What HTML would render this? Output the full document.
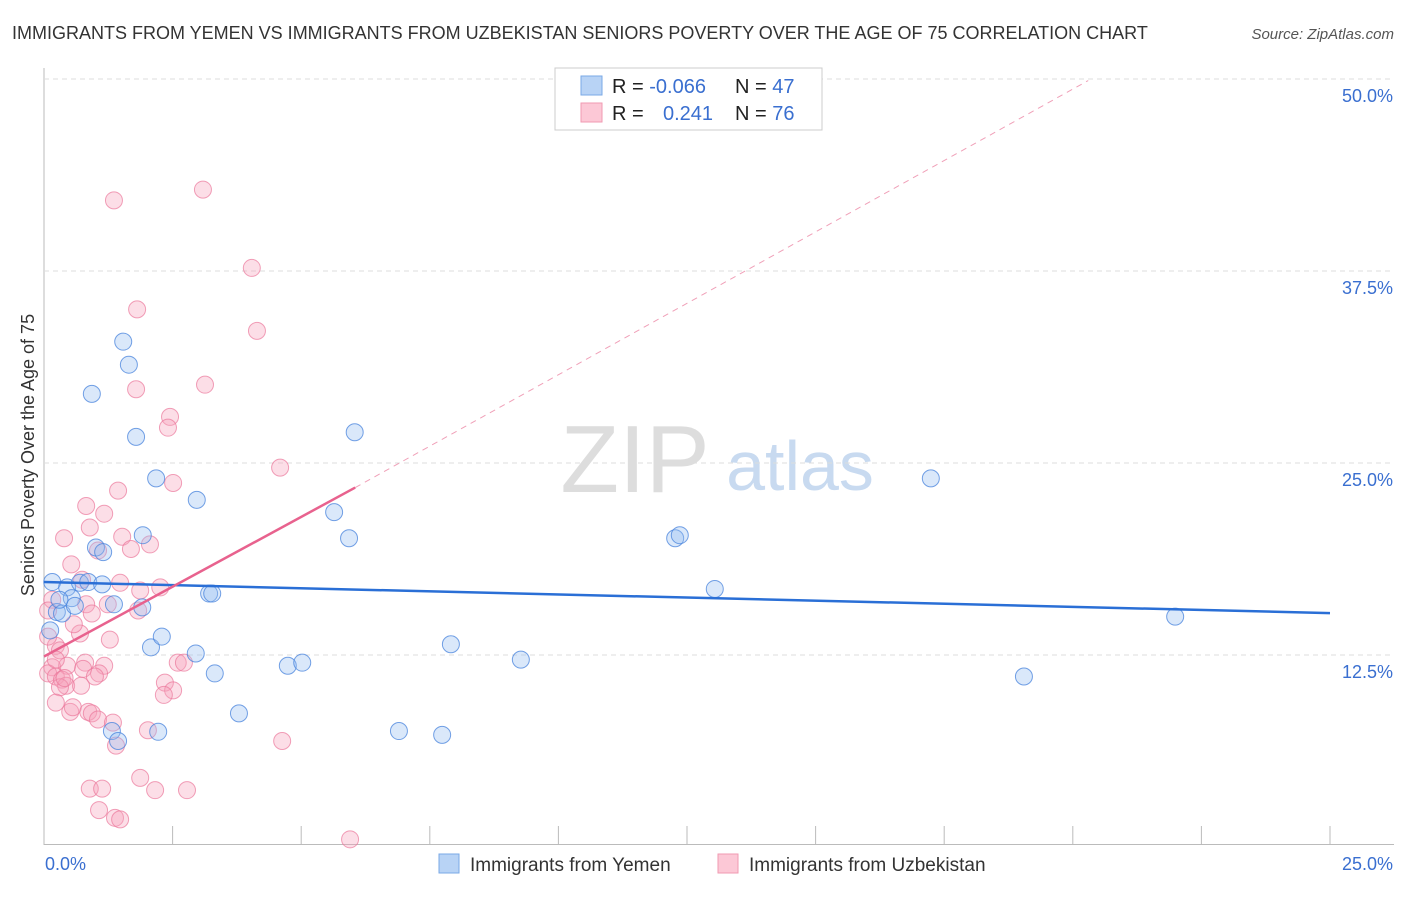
<!DOCTYPE html>
<html><head><meta charset="utf-8"><style>
body{margin:0;background:#fff;font-family:"Liberation Sans",sans-serif;}
svg text{font-family:"Liberation Sans",sans-serif;}
</style></head><body>
<svg id="c" width="1406" height="892">
<text x="12" y="39" font-size="18" fill="#333">IMMIGRANTS FROM YEMEN VS IMMIGRANTS FROM UZBEKISTAN SENIORS POVERTY OVER THE AGE OF 75 CORRELATION CHART</text>
<text x="1394" y="39" font-size="15" fill="#555" font-style="italic" text-anchor="end">Source: ZipAtlas.com</text>
<text x="34" y="455" font-size="18" fill="#333" text-anchor="middle" transform="rotate(-90 34 455)">Seniors Poverty Over the Age of 75</text>
<g><text x="635" y="492" font-size="96" fill="#ddd" font-family="Liberation Serif" text-anchor="middle">ZIP</text><text x="800" y="490" font-size="70" fill="#c8daf0" text-anchor="middle">atlas</text></g>
<g id="grid"></g><g id="pts"></g><g id="lines"></g>
<g>
<rect x="555" y="68" width="267" height="62" fill="#fff" stroke="#ccc"/>
<rect x="581" y="76" width="21" height="19" fill="#b8d3f5" stroke="#7aa8e6"/>
<rect x="581" y="103" width="21" height="19" fill="#fcc8d6" stroke="#f09ab2"/>
<text x="612" y="93" font-size="20" fill="#222">R = <tspan fill="#3a6fd0">-0.066</tspan></text>
<text x="735" y="93" font-size="20" fill="#222">N = <tspan fill="#3a6fd0">47</tspan></text>
<text x="612" y="120" font-size="20" fill="#222">R = <tspan fill="#3a6fd0" x="663">0.241</tspan></text>
<text x="735" y="120" font-size="20" fill="#222">N = <tspan fill="#3a6fd0">76</tspan></text>
</g>
<g>
<rect x="439" y="854" width="20" height="19" fill="#b8d3f5" stroke="#7aa8e6"/>
<text x="470" y="871" font-size="19" fill="#333">Immigrants from Yemen</text>
<rect x="718" y="854" width="20" height="19" fill="#fcc8d6" stroke="#f09ab2"/>
<text x="749" y="871" font-size="19" fill="#333">Immigrants from Uzbekistan</text>
</g>
<text x="45" y="870" font-size="18" fill="#3a6fd0">0.0%</text>
<text x="1393" y="870" font-size="18" fill="#3a6fd0" text-anchor="end">25.0%</text>
</svg>
<script>
const yTicks=[12.5,25,37.5,50];
const yTickLabels=["12.5%","25.0%","37.5%","50.0%"];
const xTicks=[0,2.5,5,7.5,10,12.5,15,17.5,20,22.5,25];
const yemenX=[.16,.25,.35,.45,.54,.6,.7,.86,.93,1.01,1.15,1.13,1.36,1.32,1.44,1.54,1.65,1.79,1.91,1.92,2.08,2.18,2.22,2.29,2.95,2.97,3.21,3.27,3.32,3.79,4.74,5.02,5.64,5.93,6.04,6.9,7.74,7.91,9.27,12.27,12.36,13.04,17.24,19.05,21.99,.12,.3];
const yemenY=[17.25,15.3,15.2,16.9,16.2,15.7,17.2,17.25,29.5,19.5,19.2,17.1,15.8,7.55,6.9,32.9,31.4,26.7,15.6,20.3,13.0,24.0,7.5,13.7,12.6,22.6,16.5,16.5,11.3,8.7,11.8,12.0,21.8,20.1,27.0,7.55,7.3,13.2,12.2,20.1,20.3,16.8,24.0,11.1,15.0,14.1,16.1];
const uzbX=[1.36,3.09,4.04,1.81,4.14,1.79,3.13,2.45,2.41,4.59,2.51,1.44,.82,1.17,.89,.39,1.52,2.06,1.69,1.05,.53,1.48,2.26,.74,1.87,.82,1.24,.93,1.83,.16,.7,.23,.08,.16,.45,.8,1.17,1.07,.08,.23,.35,.43,.31,.72,.76,.99,2.6,2.72,2.35,2.51,2.33,.23,.51,.56,.86,.93,1.05,1.34,1.4,2.02,4.63,1.87,.89,1.13,2.16,2.78,1.07,1.38,1.48,5.95,.08,.31,.23,.58,1.28,.4];
const uzbY=[42.1,42.8,37.7,35.0,33.6,29.8,30.1,28.0,27.3,24.7,23.7,23.2,22.2,21.7,20.8,20.1,20.2,19.7,19.4,19.3,18.4,17.2,16.9,17.4,16.7,15.8,15.8,15.2,15.4,16.1,13.9,13.1,13.7,11.7,11.8,12.0,11.8,11.3,11.3,11.1,10.9,10.5,10.4,10.5,11.6,11.1,12.0,12.0,10.7,10.2,9.9,9.4,8.8,9.1,8.8,8.7,8.3,8.1,6.6,7.6,6.9,4.5,3.8,3.8,3.7,3.7,2.4,1.9,1.8,0.5,15.4,12.8,12.2,14.5,13.5,11.0];
const yemenTrend=[17.25,15.23];
const uzbTrend=[12.4,23.4,6.05,49.9,20.3];
const NS="http://www.w3.org/2000/svg";
const X=v=>44+v/25*1286, Y=v=>847-v*15.36;
function mk(p,t,a){const e=document.createElementNS(NS,t);for(const k in a)e.setAttribute(k,a[k]);p.appendChild(e);return e;}
const g=document.getElementById('grid');
mk(g,'line',{x1:44,y1:68,x2:44,y2:845,stroke:'#bbb'});
mk(g,'line',{x1:44,y1:844.5,x2:1394,y2:844.5,stroke:'#bbb'});
yTicks.forEach((v,i)=>{
 const l=mk(g,'line',{x1:44,x2:1394,y1:Y(v),y2:Y(v),stroke:'#ddd','stroke-dasharray':'5,4'});
 
 
 const t=mk(g,'text',{x:1393,y:Y(v)+23,'font-size':18,fill:'#3a6fd0','text-anchor':'end'});
 t.textContent=yTickLabels[i];
 
 
});
xTicks.forEach(v=>{
 const l=mk(g,'line',{x1:X(v),x2:X(v),y1:826,y2:845,stroke:'#bbb'});
 
 
});
const p=document.getElementById('pts');
uzbX.forEach((x,i)=>{
 const c=mk(p,'circle',{cx:X(x),cy:Y(uzbY[i]),r:8.5,fill:'rgba(247,160,185,0.35)',stroke:'rgba(235,120,155,0.7)','stroke-width':1});
 
 
});
yemenX.forEach((x,i)=>{
 const c=mk(p,'circle',{cx:X(x),cy:Y(yemenY[i]),r:8.5,fill:'rgba(150,190,240,0.35)',stroke:'rgba(70,130,220,0.75)','stroke-width':1});
 
 
});
const L=document.getElementById('lines');
const b=mk(L,'line',{x1:X(0),y1:Y(yemenTrend[0]),x2:X(25),y2:Y(yemenTrend[1]),stroke:'#2a6fd6','stroke-width':2.5});


const pd=mk(L,'line',{x1:X(uzbTrend[2]),y1:Y(uzbTrend[1]),x2:X(uzbTrend[4]),y2:Y(uzbTrend[3]),stroke:'#f0a0b8','stroke-width':1,'stroke-dasharray':'6,5'});


const ps=mk(L,'line',{x1:X(0),y1:Y(uzbTrend[0]),x2:X(uzbTrend[2]),y2:Y(uzbTrend[1]),stroke:'#e8628e','stroke-width':2.5});


</script>
</body></html>
